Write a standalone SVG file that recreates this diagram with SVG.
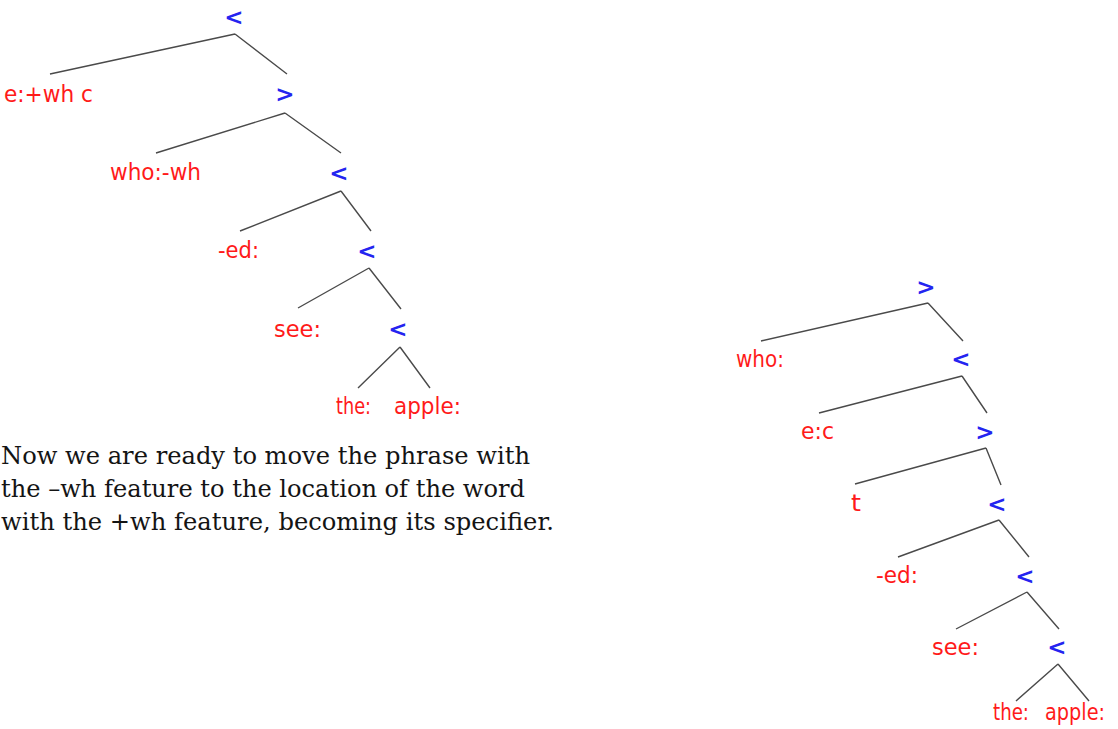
<svg xmlns="http://www.w3.org/2000/svg" width="1118" height="729" viewBox="0 0 1118 729">
<style>
.lbl{font-family:"DejaVu Sans",Verdana,sans-serif;font-size:23px;fill:#ff1a1a}
.op{font-family:"DejaVu Sans",Verdana,sans-serif;font-size:23px;font-weight:bold;fill:#2424f0;text-anchor:middle}
.edge{stroke:#4a4a4a;stroke-width:1.4;fill:none}
.para{font-family:"DejaVu Serif","Liberation Serif",serif;font-size:25px;fill:#141414}
</style>
<rect width="1118" height="729" fill="#ffffff"/>
<g id="connectors">
<path class="edge" d="M235,34L50,74M235,34L287,74M285,113L156,153M285,113L341,153M341,191L240,231M341,191L371,231M369,268L298,308M369,268L401,309M400,347L358,388M400,347L430,388"/>
<path class="edge" d="M928,303L761,341M928,303L963,341M962,376L819,413M962,376L987,413M986,448L855,484M986,448L1001,485M999,520L898,557M999,520L1029,557M1027,592L956,629M1027,592L1059,629M1058,664L1016,701M1058,664L1089,701"/>
</g>
<g id="L0"><text class="op" x="234" y="25">&lt;</text></g>
<g id="L1"><text class="lbl" x="4" y="102" textLength="89" lengthAdjust="spacingAndGlyphs">e:+wh c</text></g>
<g id="L2"><text class="op" x="285" y="102">&gt;</text></g>
<g id="L3"><text class="lbl" x="110" y="180" textLength="91" lengthAdjust="spacingAndGlyphs">who:-wh</text></g>
<g id="L4"><text class="op" x="339" y="181">&lt;</text></g>
<g id="L5"><text class="lbl" x="218" y="258" textLength="41" lengthAdjust="spacingAndGlyphs">-ed:</text></g>
<g id="L6"><text class="op" x="367" y="259">&lt;</text></g>
<g id="L7"><text class="lbl" x="274" y="337" textLength="47" lengthAdjust="spacingAndGlyphs">see:</text></g>
<g id="L8"><text class="op" x="398" y="337">&lt;</text></g>
<g id="L9"><text class="lbl" x="336" y="414" textLength="35" lengthAdjust="spacingAndGlyphs">the:</text></g>
<g id="L10"><text class="lbl" x="394" y="414" textLength="67" lengthAdjust="spacingAndGlyphs">apple:</text></g>
<g id="paragraph">
<text class="para" x="1" y="464" textLength="529" lengthAdjust="spacingAndGlyphs">Now we are ready to move the phrase with</text>
<text class="para" x="1" y="497" textLength="524" lengthAdjust="spacingAndGlyphs">the –wh feature to the location of the word</text>
<text class="para" x="1" y="530" textLength="553" lengthAdjust="spacingAndGlyphs">with the +wh feature, becoming its specifier.</text>
</g>
<g id="R0"><text class="op" x="926" y="295">&gt;</text></g>
<g id="R1"><text class="lbl" x="736" y="367" textLength="48" lengthAdjust="spacingAndGlyphs">who:</text></g>
<g id="R2"><text class="op" x="961" y="367">&lt;</text></g>
<g id="R3"><text class="lbl" x="801" y="439" textLength="33" lengthAdjust="spacingAndGlyphs">e:c</text></g>
<g id="R4"><text class="op" x="985" y="440">&gt;</text></g>
<g id="R5"><text class="lbl" x="851" y="511" textLength="10" lengthAdjust="spacingAndGlyphs">t</text></g>
<g id="R6"><text class="op" x="997" y="512">&lt;</text></g>
<g id="R7"><text class="lbl" x="876" y="583" textLength="42" lengthAdjust="spacingAndGlyphs">-ed:</text></g>
<g id="R8"><text class="op" x="1025" y="584">&lt;</text></g>
<g id="R9"><text class="lbl" x="932" y="655" textLength="47" lengthAdjust="spacingAndGlyphs">see:</text></g>
<g id="R10"><text class="op" x="1057" y="655">&lt;</text></g>
<g id="R11"><text class="lbl" x="993" y="720" textLength="36" lengthAdjust="spacingAndGlyphs">the:</text></g>
<g id="R12"><text class="lbl" x="1045" y="720" font-size="21" textLength="60" lengthAdjust="spacingAndGlyphs">apple:</text></g>
</svg>
